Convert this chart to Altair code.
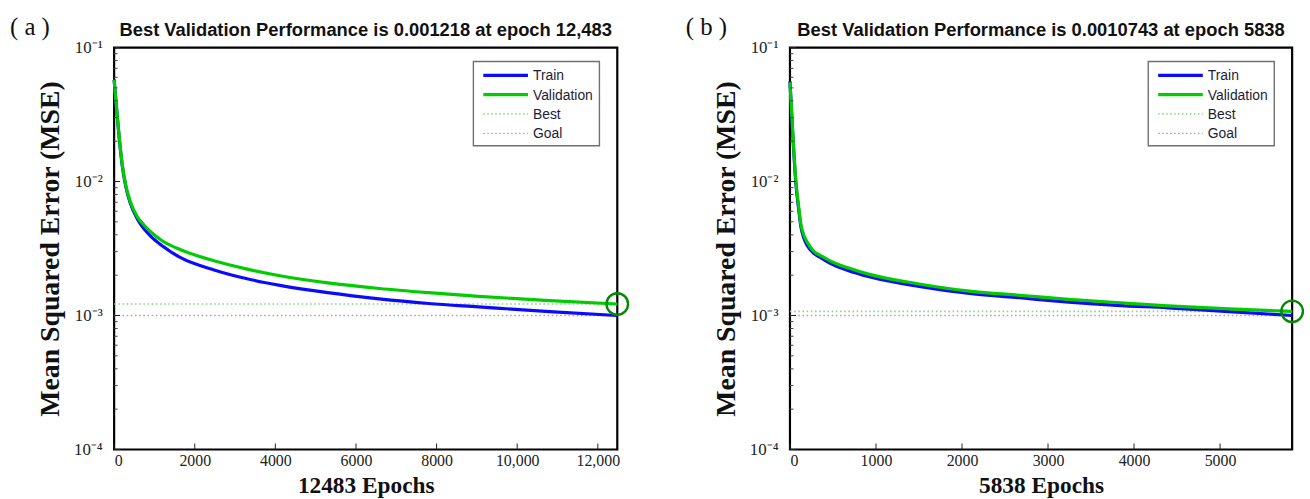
import altair as alt
import pandas as pd

# ---------------- data ----------------
# Panel (a)
a_epochs = [0, 50, 130, 200, 295, 400, 583, 750, 911, 1200, 1650, 2500, 3300, 4113, 5300, 6576, 7800, 9040, 10800, 12483]
a_train = [0.0575, 0.038, 0.0205, 0.0132, 0.0090, 0.0069, 0.0052, 0.0044, 0.0039, 0.0033, 0.0027, 0.00218, 0.00188, 0.00168, 0.00148, 0.00133, 0.00123, 0.00116, 0.00107, 0.00100]
a_val = [0.0575, 0.038, 0.021, 0.0135, 0.0092, 0.0071, 0.0054, 0.0047, 0.0042, 0.0036, 0.0031, 0.00255, 0.00222, 0.00198, 0.00175, 0.00159, 0.00148, 0.00139, 0.00129, 0.001218]
a_best = 0.001218
a_best_epoch = 12483
a_title = "Best Validation Performance is 0.001218 at epoch 12,483"
a_xtitle = "12483 Epochs"
a_xticks = [0, 2000, 4000, 6000, 8000, 10000, 12000]

# Panel (b)
b_epochs = [0, 30, 69, 100, 127, 160, 204, 280, 358, 500, 665, 934, 1500, 2088, 2700, 3241, 3800, 4394, 5100, 5838]
b_train = [0.056, 0.024, 0.0096, 0.0063, 0.0046, 0.0038, 0.0033, 0.0029, 0.0027, 0.0024, 0.00218, 0.00194, 0.00165, 0.00146, 0.00135, 0.00126, 0.00119, 0.00114, 0.00107, 0.00100]
b_val = [0.055, 0.025, 0.0100, 0.0066, 0.0048, 0.0040, 0.0035, 0.0030, 0.0028, 0.0025, 0.00228, 0.00202, 0.00172, 0.00152, 0.00141, 0.00132, 0.00125, 0.00118, 0.00112, 0.0010743]
b_best = 0.0010743
b_best_epoch = 5838
b_title = "Best Validation Performance is 0.0010743 at epoch 5838"
b_xtitle = "5838 Epochs"
b_xticks = [0, 1000, 2000, 3000, 4000, 5000]

goal = 0.001
y_major = [1e-4, 1e-3, 1e-2, 1e-1]
y_minor = [m * 10.0 ** e for e in (-4, -3, -2) for m in range(2, 10)]

series_names = ["Best", "Goal", "Train", "Validation"]
series_colors = ["#86d986", "#a8a8a8", "#0a0aff", "#00cc00"]
legend_labels = ["Train", "Validation", "Best", "Goal"]

H = 405

SERIF = "Liberation Serif"
SANS = "Liberation Sans"


def panel(tag, epochs, train, val, best, best_epoch, title, xtitle, xticks, W):
    maxe = epochs[-1]
    rows = []
    for e, t in zip(epochs, train):
        rows.append({"series": "Train", "epoch": e, "mse": t})
    for e, v in zip(epochs, val):
        rows.append({"series": "Validation", "epoch": e, "mse": v})
    for e in (0, maxe):
        rows.append({"series": "Best", "epoch": e, "mse": best})
        rows.append({"series": "Goal", "epoch": e, "mse": goal})
    df = pd.DataFrame(rows)

    xscale = alt.Scale(domain=[0, maxe], nice=False, zero=False)
    yscale = alt.Scale(type="log", domain=[1e-4, 1e-1], nice=False)
    cscale = alt.Scale(domain=series_names, range=series_colors)

    ylabel_expr = ("'10' + (datum.value >= 0.05 ? '⁻¹' : datum.value >= 0.005 ? '⁻²' : "
                   "datum.value >= 0.0005 ? '⁻³' : '⁻⁴')")
    xlabel_expr = "datum.value >= 10000 ? format(datum.value, ',') : format(datum.value, 'd')"

    base = alt.Chart(df)
    dotted = base.transform_filter(
        alt.FieldOneOfPredicate(field="series", oneOf=["Best", "Goal"])
    ).mark_line(strokeWidth=1.6, strokeDash=[1.6, 2.6]).encode(
        x=alt.X("epoch:Q", scale=xscale,
                axis=alt.Axis(values=xticks, labelExpr=xlabel_expr, ticks=False, domain=False,
                              grid=False, labelFont=SERIF, labelFontSize=16, labelColor="#222",
                              labelPadding=3, title=xtitle, titleFont=SERIF, titleFontSize=23.5,
                              titleFontWeight="bold", titleColor="#111", titlePadding=5)),
        y=alt.Y("mse:Q", scale=yscale,
                axis=alt.Axis(values=y_major, labelExpr=ylabel_expr, ticks=False, domain=False,
                              grid=False, labelFont=SERIF, labelFontSize=17, labelColor="#222",
                              labelPadding=12, title="Mean Squared Error (MSE)", titleFont=SERIF,
                              titleFontSize=28, titleFontWeight="bold", titleColor="#111",
                              titlePadding=9)),
        color=alt.Color("series:N", scale=cscale, legend=None),
        detail="series:N",
    )
    train_line = base.transform_filter(alt.datum.series == "Train").mark_line(
        strokeWidth=3.2, interpolate="monotone").encode(
        x=alt.X("epoch:Q", scale=xscale), y=alt.Y("mse:Q", scale=yscale),
        color=alt.Color("series:N", scale=cscale, legend=None))
    val_line = base.transform_filter(alt.datum.series == "Validation").mark_line(
        strokeWidth=3.2, interpolate="monotone").encode(
        x=alt.X("epoch:Q", scale=xscale), y=alt.Y("mse:Q", scale=yscale),
        color=alt.Color("series:N", scale=cscale, legend=None))

    best_df = pd.DataFrame({"epoch": [best_epoch], "mse": [best]})
    circle = alt.Chart(best_df).mark_point(shape="circle", size=470, filled=False, opacity=1,
                                           stroke="#008a00", strokeWidth=2.4).encode(
        x=alt.X("epoch:Q", scale=xscale), y=alt.Y("mse:Q", scale=yscale))

    # inward ticks
    ymaj_df = pd.DataFrame({"v": y_major})
    ymin_df = pd.DataFrame({"v": y_minor})
    ymaj_ticks = alt.Chart(ymaj_df).mark_rule(color="#222", strokeWidth=1).encode(
        y=alt.Y("v:Q", scale=yscale), x=alt.value(0), x2=alt.value(6))
    ymin_ticks = alt.Chart(ymin_df).mark_rule(color="#444", strokeWidth=1).encode(
        y=alt.Y("v:Q", scale=yscale), x=alt.value(0), x2=alt.value(3.5))
    xt_df = pd.DataFrame({"v": xticks})
    x_ticks = alt.Chart(xt_df).mark_rule(color="#222", strokeWidth=1).encode(
        x=alt.X("v:Q", scale=xscale), y=alt.value(H), y2=alt.value(H - 6))

    # legend (manual, top right)
    lx, ly = W - 145, 14
    leg_box = alt.Chart(pd.DataFrame({"k": [0]})).mark_rect(
        fill="white", stroke="#707070", strokeWidth=1.4).encode(
        x=alt.value(lx), x2=alt.value(lx + 127), y=alt.value(ly), y2=alt.value(ly + 85))
    leg_layers = [leg_box]
    styles = {"Train": ("#0a0aff", 3.2, None), "Validation": ("#00cc00", 3.2, None),
              "Best": ("#86d986", 1.4, [1.6, 2.4]), "Goal": ("#a8a8a8", 1.4, [1.6, 2.4])}
    for i, name in enumerate(legend_labels):
        col, sw, dash = styles[name]
        yy = ly + 14 + i * 19.5
        kw = dict(color=col, strokeWidth=sw)
        if dash:
            kw["strokeDash"] = dash
        seg = alt.Chart(pd.DataFrame({"k": [i]})).mark_rule(**kw).encode(
            x=alt.value(lx + 10), x2=alt.value(lx + 55), y=alt.value(yy))
        txt = alt.Chart(pd.DataFrame({"t": [name]})).mark_text(
            align="left", baseline="middle", font=SANS, fontSize=14, color="#1c1c38").encode(
            x=alt.value(lx + 60), y=alt.value(yy + 1), text="t:N")
        leg_layers += [seg, txt]

    tag_txt = alt.Chart(pd.DataFrame({"t": [tag]})).mark_text(
        align="left", baseline="middle", font=SERIF, fontSize=25, color="#111").encode(
        x=alt.value(-105), y=alt.value(-21), text="t:N")
    title_txt = alt.Chart(pd.DataFrame({"t": [title]})).mark_text(
        align="center", baseline="middle", font=SANS, fontSize=18.5, fontWeight="bold",
        color="#111").encode(x=alt.value(W / 2), y=alt.value(-18), text="t:N")

    layer = alt.layer(dotted, train_line, val_line, circle, ymaj_ticks, ymin_ticks, x_ticks,
                      *leg_layers, tag_txt, title_txt).properties(width=W, height=H)
    return layer


pa = panel("( a )", a_epochs, a_train, a_val, a_best, a_best_epoch, a_title, a_xtitle, a_xticks, 507)
pb = panel("( b )", b_epochs, b_train, b_val, b_best, b_best_epoch, b_title, b_xtitle, b_xticks, 506)

chart = alt.hconcat(pa, pb, spacing=50).properties(
    padding={"left": 8, "top": 11, "right": 1, "bottom": 1},
    background="white",
).configure_view(stroke="#000", strokeWidth=2.2).configure_concat(spacing=50)

chart.save("out.html", embed_options={"renderer": "svg", "actions": False})
